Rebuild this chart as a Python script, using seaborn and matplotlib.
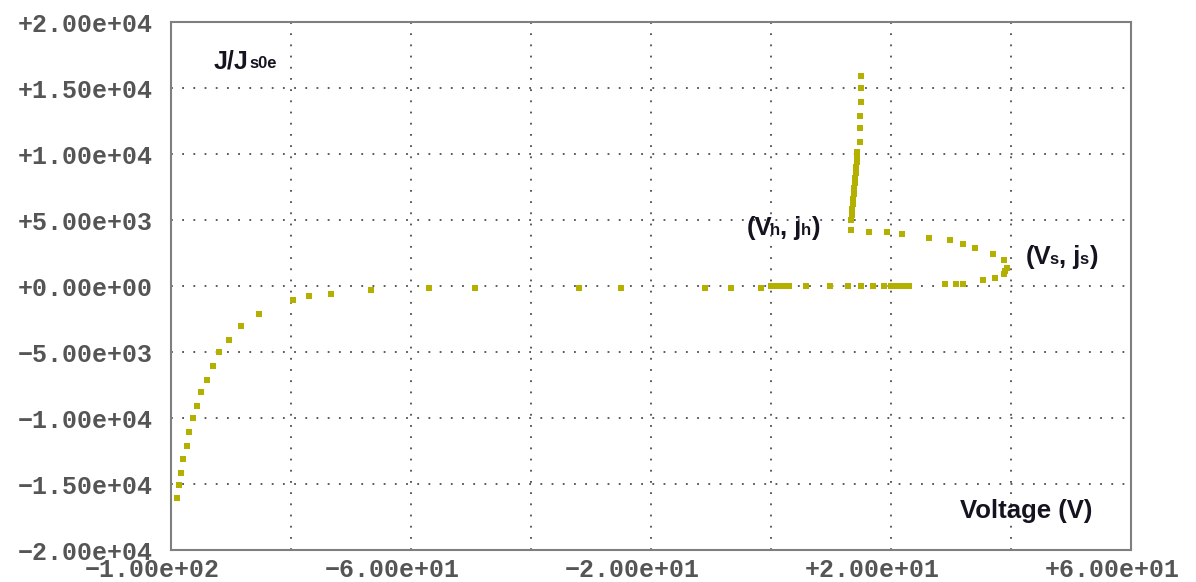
import matplotlib
matplotlib.use("Agg")
import matplotlib.pyplot as plt
import seaborn as sns
from matplotlib.ticker import FuncFormatter
from matplotlib.transforms import ScaledTranslation

# I-V trace: normalised current density J/Js0e versus applied voltage
voltage = [
    -99.0, -98.7, -98.4, -98.0, -97.4, -97.0, -96.4, -95.7, -95.0, -94.0,
    -93.0, -92.0, -90.4, -88.4, -85.4, -79.7, -77.0, -73.4, -66.7, -57.0,
    -49.4, -32.0, -25.0, -11.0, -6.7, -1.7,
    0.0, 0.5, 1.0, 1.5, 2.0, 2.5, 3.0,
    5.7, 9.7, 12.7, 15.0, 17.0, 18.7,
    20.0, 20.5, 21.0, 21.5, 22.0, 22.5, 23.0,
    29.0, 30.7, 32.0, 35.3, 37.3, 38.7, 39.0, 39.3,
    38.7, 37.0, 34.0, 32.0, 29.7, 26.3, 21.7, 19.3, 16.3, 13.3,
    13.35, 13.4, 13.5, 13.6, 13.65, 13.75, 13.8, 13.9, 14.0, 14.05,
    14.15, 14.2, 14.3, 14.35,
    14.7, 14.7, 14.7, 15.0, 15.0, 15.0,
]
current = [
    -16050, -15030, -14120, -13060, -12120, -11060, -10000, -9090, -8030, -7120,
    -6060, -5000, -4090, -3030, -2120, -1060, -760, -610, -300, -150,
    -150, -150, -150, -150, -150, -150,
    0, 0, 0, 0, 0, 0, 0,
    0, 0, 0, 0, 0, 0,
    0, 0, 0, 0, 0, 0, 0,
    150, 150, 150, 480, 630, 930, 1140, 1390,
    1990, 2450, 2900, 3200, 3510, 3660, 3960, 4110, 4110, 4260,
    5020, 5420, 5820, 6220, 6620, 7020, 7420, 7820, 8220, 8620,
    9020, 9420, 9820, 10150,
    10930, 11990, 12900, 13960, 15020, 15930,
]

x_ticks = [-100, -60, -20, 20, 60]
x_grid = [-80, -40, 0, 40]
y_ticks = [-20000, -15000, -10000, -5000, 0, 5000, 10000, 15000, 20000]

sns.set_theme(style="white")
plt.rcParams["font.family"] = ["Liberation Mono", "DejaVu Sans Mono"]
plt.rcParams["font.weight"] = "bold"

W, H, DPI = 1196, 582, 100
fig = plt.figure(figsize=(W / DPI, H / DPI), dpi=DPI)
ax = fig.add_axes([171.3 / W, 31.7 / H, 960 / W, 528 / H])

sns.scatterplot(x=voltage, y=current, marker="s", s=23, color="#b4b000",
                linewidth=0, ax=ax, zorder=3)

ax.set_xlim(-100, 60)
ax.set_ylim(-20000, 20000)
ax.set_xticks(x_ticks)
ax.set_xticks(x_grid, minor=True)
ax.set_yticks(y_ticks)

fmt = FuncFormatter(lambda v, p: "{:+.2e}".format(v).replace("-", "\u2212"))
ax.xaxis.set_major_formatter(fmt)
ax.yaxis.set_major_formatter(fmt)

ax.tick_params(axis="both", which="both", length=0, labelsize=18,
               labelcolor="#555555")
ax.tick_params(axis="y", pad=13.5)
ax.tick_params(axis="x", pad=5.5)

# shift the voltage labels a little to the left of their grid lines
shift = ScaledTranslation(-19 / DPI, 0, fig.dpi_scale_trans)
for tick in ax.xaxis.get_major_ticks():
    tick.label1.set_transform(tick.label1.get_transform() + shift)

grid_kw = dict(color="#4d4d4d", linewidth=1.3, linestyle=(0, (1, 5.2)))
ax.grid(which="both", axis="x", **grid_kw)
ax.grid(which="major", axis="y", **grid_kw)
ax.set_axisbelow(True)

for sp in ax.spines.values():
    sp.set_color("#7f7f7f")
    sp.set_linewidth(1.5)

ax.set_xlabel("")
ax.set_ylabel("")

text_color = "#141420"
renderer = fig.canvas.get_renderer()


def rich_label(x, y, pieces, coords="data"):
    """Draw a run of text pieces on a common baseline (for subscripts).

    Each piece is (text, fontsize, extra horizontal offset in pixels).
    """
    dx = 0.0
    for s, size, kern in pieces:
        dx += kern
        t = ax.annotate(s, xy=(x, y), xycoords=coords, xytext=(dx, 0),
                        textcoords="offset pixels", fontsize=size,
                        family=["Liberation Sans", "DejaVu Sans"],
                        fontweight="bold", color=text_color,
                        ha="left", va="baseline")
        dx += t.get_window_extent(renderer).width


rich_label(0.0437, 0.9134, [("J/J", 18, 0), ("s0e", 12, 1)],
           coords="axes fraction")
rich_label(-4.1, 3890, [("(V", 18.5, 0), ("h", 12, -2), (", j", 18.5, 0),
                        ("h", 12, -1), (")", 18.5, 0.5)])
rich_label(42.45, 1690, [("(V", 18.5, 0), ("s", 12, -2), (", j", 18.5, 0),
                         ("s", 12, -1), (")", 18.5, 0.5)])

ax.text(0.8216, 0.0606, "Voltage (V)", transform=ax.transAxes,
        family=["Liberation Sans", "DejaVu Sans"], fontweight="bold",
        fontsize=18.5, color=text_color, ha="left", va="baseline")

fig.savefig("out.png", dpi=DPI)
